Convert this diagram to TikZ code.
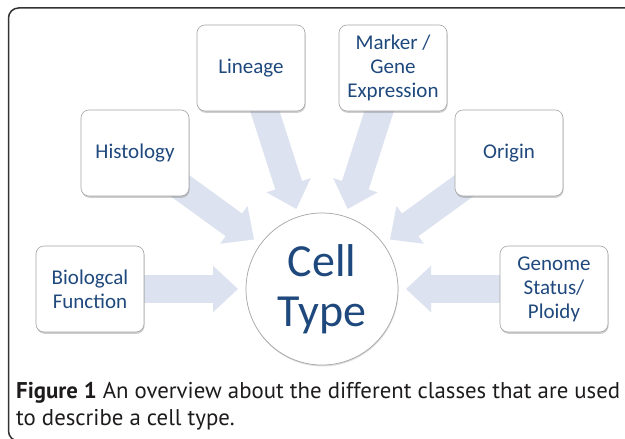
\documentclass[tikz,border=0pt]{standalone}
\usepackage{fontspec}
\setmainfont{Carlito}
\newfontfamily\capfont{PT Sans}
\usetikzlibrary{arrows.meta,calc,shadows,backgrounds}
\pgfdeclarelayer{paper}
\pgfsetlayers{paper,background,main}
\definecolor{txt}{RGB}{31,73,125}
\definecolor{arr}{RGB}{220,226,240}
\definecolor{bord}{RGB}{165,165,165}
\definecolor{captxt}{RGB}{30,27,28}
\begin{document}
\begin{tikzpicture}[x=1pt,y=1pt,
  cls/.style={draw=bord, line width=0.6pt, fill=white, rounded corners=8pt,
    minimum width=108pt, minimum height=86pt, align=center, text=txt,
    font=\fontsize{21}{24}\selectfont,
    drop shadow={shadow xshift=0.6pt, shadow yshift=-1.8pt, opacity=0.35, fill=black!55}},
  blk/.style={line width=28pt, draw=arr, -{Triangle[length=25pt,width=45pt]}},
  capstyle/.style={anchor=base west, inner sep=0pt, text=captxt,
    font=\capfont\fontsize{22.8}{27}\selectfont}
]
\useasboundingbox (0,0) rectangle (625,439);
\begin{pgfonlayer}{paper}
\fill[white] (0,0) rectangle (625,439);
\end{pgfonlayer}
% outer frame (open to the right and bottom, as cropped in the reference)
\coordinate (fr1) at (625,431);
\coordinate (fr2) at (8.5,431);
\coordinate (fr3) at (8.5,-2);
\begin{scope}
\clip (0,0) rectangle (625,439);
\draw[line width=1.5pt, rounded corners=10pt, draw=black!80] (fr1) -- (fr2) -- (fr3) -- (20,-2);
\end{scope}

% category boxes
\node[cls] (lin)  at (251,371) {Lineage};
\node[cls] (mark) at (393,371) {Marker /\\Gene\\Expression};
\node[cls] (hist) at (135,286) {Histology};
\node[cls] (orig) at (509,286) {Origin};
\node[cls] (bio)  at (90,150)  {Biologcal\\Function};
\node[cls] (gen)  at (554,150) {Genome\\Status/\\Ploidy};

% central circle
\node[circle, draw=bord, line width=0.7pt, fill=white, minimum size=152pt, inner sep=0pt,
  align=center, text=txt, font=\fontsize{46}{50}\selectfont,
  drop shadow={shadow xshift=0.5pt, shadow yshift=-1.5pt, opacity=0.25, fill=black!50}]
  (cell) at (322,150) {Cell\\Type};

% block arrows
\begin{scope}[on background layer]
\foreach \s in {lin,mark,hist,orig,bio,gen}{
  \draw[blk] (\s.center) -- ($(cell.center)!84pt!(\s.center)$);
}
\end{scope}

% caption
\node[capstyle] (cap1) at (16,40) {\textbf{Figure 1} An overview about the different classes that are used};
\node[capstyle] (cap2) at (16,13) {to describe a cell type.};
\end{tikzpicture}
\end{document}
